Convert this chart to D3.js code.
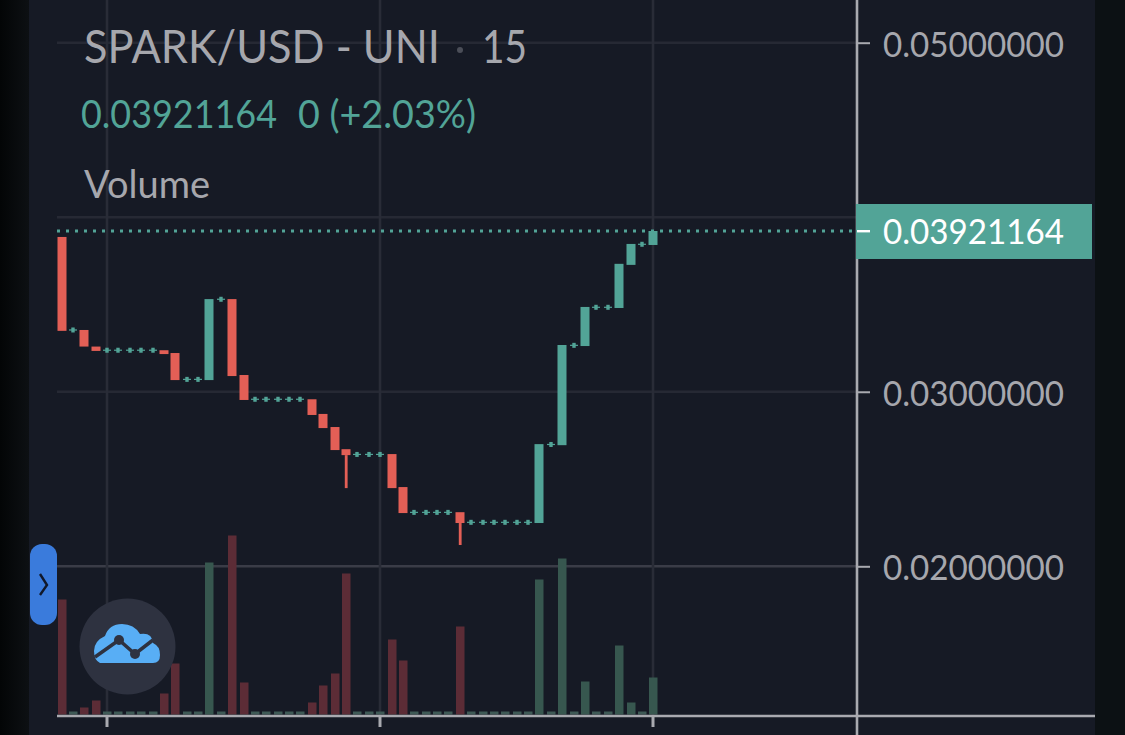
<!DOCTYPE html>
<html>
<head>
<meta charset="utf-8">
<script src="https://d3js.org/d3.v7.min.js"></script>
<style>
  html, body { margin: 0; padding: 0; background: #0c1114; overflow: hidden; }
  text { font-family: "Lato", sans-serif; }
</style>
</head>
<body>
<div id="chart"></div>
<script>
// candle data (15 min bars)
var opens = [0.03887, 0.03354, 0.03354, 0.03259, 0.03238, 0.03238, 0.03238, 0.03238, 0.03238, 0.03238,
  0.03222, 0.03071, 0.03071, 0.03067, 0.03530, 0.03531, 0.03096, 0.02957, 0.02957, 0.02957,
  0.02957, 0.02957, 0.02957, 0.02873, 0.02798, 0.02671, 0.02641, 0.02641, 0.02641, 0.02643,
  0.02454, 0.02309, 0.02309, 0.02309, 0.02309, 0.02310, 0.02252, 0.02252, 0.02252, 0.02252,
  0.02252, 0.02252, 0.02248, 0.02698, 0.02694, 0.03266, 0.03262, 0.03484, 0.03484, 0.03480,
  0.03727, 0.03845, 0.03841];
var closes = [0.03349, 0.03354, 0.03259, 0.03234, 0.03238, 0.03238, 0.03238, 0.03238, 0.03238, 0.03216,
  0.03067, 0.03071, 0.03071, 0.03531, 0.03530, 0.03090, 0.02953, 0.02957, 0.02957, 0.02957,
  0.02957, 0.02957, 0.02867, 0.02792, 0.02666, 0.02637, 0.02641, 0.02641, 0.02641, 0.02448,
  0.02305, 0.02309, 0.02309, 0.02309, 0.02309, 0.02248, 0.02252, 0.02252, 0.02252, 0.02252,
  0.02252, 0.02252, 0.02700, 0.02698, 0.03268, 0.03266, 0.03486, 0.03484, 0.03484, 0.03733,
  0.03847, 0.03845, 0.03921164];
// only the two long lower wicks show
var wickIndex = [25, 35];
var wickLows = [0.02448, 0.02122];
// volume, no scale on the picture so units are arbitrary
var volumes = [115, 3, 7, 14, 3, 3, 3, 3, 3, 21,
  51, 3, 3, 152, 3, 179, 32, 3, 3, 3,
  3, 3, 12, 29, 41, 141, 3, 3, 3, 75,
  54, 3, 3, 3, 3, 88, 3, 3, 3, 3,
  3, 3, 135, 3, 156, 3, 33, 3, 3, 69,
  12, 3, 37];
var priceTicks = [0.05, 0.03, 0.02];
var gridPrices = [0.05, 0.04, 0.03, 0.02];
var timeTicks = [4, 28, 52];
var lastPrice = 0.03921164;

var svgWidth = 1125, svgHeight = 735;
var up = "#52a497", down = "#e35f56", upVol = "#37574f", downVol = "#5c2c36", smallVol = "#3e5a56";
var axisColor = "#a9aab0", textColor = "#a6a7ad";
var axisX = 857, axisY = 716, chartLeft = 57, chartRight = 1095;

var svg = d3.select("#chart")
  .append("svg")
  .attr("width", svgWidth)
  .attr("height", svgHeight)
  .style("display", "block");

// scales
var x = d3.scaleLinear().domain([0, 52]).range([61.5, 653.3]);
var y = d3.scaleLinear().domain([0.02, 0.05]).range([566.3, 42.7]);
var vol = d3.scaleLinear().domain([0, 180]).range([714.5, 534.5]);

// the reference font is narrower than Lato, squeeze to the measured width
function label(sel, width) {
  return sel.attr("textLength", width).attr("lengthAdjust", "spacingAndGlyphs");
}

// backgrounds
var defs = svg.append("defs");
var grad = defs.append("linearGradient").attr("id", "leftStrip");
grad.append("stop").attr("offset", "0%").attr("stop-color", "#030506");
grad.append("stop").attr("offset", "100%").attr("stop-color", "#0d1013");
svg.append("rect").attr("width", 29).attr("height", svgHeight).attr("fill", "url(#leftStrip)");
svg.append("rect").attr("x", 29).attr("width", chartRight - 29).attr("height", svgHeight).attr("fill", "#161a25");

// grid
svg.append("g").selectAll("line")
  .data(gridPrices)
  .enter()
  .append("line")
  .attr("x1", chartLeft).attr("x2", axisX)
  .attr("y1", function (d) { return y(d); })
  .attr("y2", function (d) { return y(d); })
  .attr("stroke", function (d) { return d == 0.02 ? "#3a3c47" : "#262934"; })
  .attr("stroke-width", 2.6);
svg.append("g").selectAll("line")
  .data(timeTicks)
  .enter()
  .append("line")
  .attr("x1", function (d) { return Math.round(x(d)); })
  .attr("x2", function (d) { return Math.round(x(d)); })
  .attr("y1", 0).attr("y2", axisY)
  .attr("stroke", "#292c37")
  .attr("stroke-width", 2.6);

// volume bars
svg.append("g").selectAll("rect")
  .data(volumes)
  .enter()
  .append("rect")
  .attr("x", function (d, i) { return Math.round(x(i)) - 4; })
  .attr("width", 8.5)
  .attr("y", function (d) { return vol(d); })
  .attr("height", function (d) { return vol(0) - vol(d); })
  .attr("fill", function (d, i) {
    if (closes[i] >= opens[i]) return d <= 3 ? smallVol : upVol;
    return downVol;
  });

// last price dotted line
svg.append("line")
  .attr("x1", chartLeft).attr("x2", axisX)
  .attr("y1", y(lastPrice)).attr("y2", y(lastPrice))
  .attr("stroke", up)
  .attr("stroke-width", 3)
  .attr("stroke-dasharray", "3 6");

// wicks
svg.append("g").selectAll("rect")
  .data(wickIndex)
  .enter()
  .append("rect")
  .attr("x", function (d) { return Math.round(x(d)) - 1.2; })
  .attr("width", 2.8)
  .attr("y", function (d) { return y(closes[d]); })
  .attr("height", function (d, i) { return y(wickLows[i]) - y(closes[d]); })
  .attr("fill", down);

// candles, flat ones get a little cross
var candles = svg.append("g").selectAll("g")
  .data(opens)
  .enter()
  .append("g")
  .attr("transform", function (d, i) { return "translate(" + Math.round(x(i)) + ",0)"; });
candles.each(function (d, i) {
  var g = d3.select(this);
  if (opens[i] == closes[i]) {
    g.append("rect").attr("x", -4).attr("width", 8).attr("y", y(opens[i]) - 0.6).attr("height", 1.2).attr("fill", up);
    g.append("rect").attr("x", -1.7).attr("width", 3.4).attr("y", y(opens[i]) - 2.5).attr("height", 5).attr("fill", up);
  } else {
    g.append("rect")
      .attr("x", -4.5).attr("width", 9)
      .attr("y", y(Math.max(opens[i], closes[i])))
      .attr("height", Math.abs(y(opens[i]) - y(closes[i])))
      .attr("fill", closes[i] > opens[i] ? up : down);
  }
});

// axes
var priceAxis = d3.axisRight(y)
  .tickValues(priceTicks)
  .tickSize(13)
  .tickPadding(13)
  .tickFormat(d3.format(".8f"));
var priceG = svg.append("g")
  .attr("transform", "translate(" + axisX + ",0)")
  .call(priceAxis);
priceG.select(".domain").remove();
priceG.selectAll(".tick line").attr("stroke", axisColor).attr("stroke-width", 2);
priceG.selectAll(".tick text").attr("fill", textColor).style("font-size", "35px").attr("dy", "0.38em")
  .call(label, 181);

var timeAxis = d3.axisBottom(x)
  .tickValues(timeTicks)
  .tickSize(11)
  .tickFormat("");
var timeG = svg.append("g")
  .attr("transform", "translate(0," + axisY + ")")
  .call(timeAxis);
timeG.select(".domain").remove();
timeG.selectAll(".tick line")
  .attr("stroke", axisColor)
  .attr("stroke-width", 3);
timeG.selectAll(".tick").attr("transform", function (d) { return "translate(" + Math.round(x(d)) + ",0)"; });

svg.append("line").attr("x1", axisX).attr("x2", axisX).attr("y1", 0).attr("y2", svgHeight)
  .attr("stroke", axisColor).attr("stroke-width", 2.6);
svg.append("line").attr("x1", chartLeft).attr("x2", chartRight).attr("y1", axisY).attr("y2", axisY)
  .attr("stroke", axisColor).attr("stroke-width", 2.6);

// last price label
svg.append("rect")
  .attr("x", 856).attr("width", 236)
  .attr("y", y(lastPrice) - 27).attr("height", 55)
  .attr("fill", up);
svg.append("rect")
  .attr("x", 857).attr("width", 13)
  .attr("y", y(lastPrice) - 1).attr("height", 2.4)
  .attr("fill", "#fff");
svg.append("text")
  .attr("x", 883).attr("y", y(lastPrice))
  .attr("dy", "0.38em")
  .attr("fill", "#fff")
  .style("font-size", "35px")
  .text(d3.format(".8f")(lastPrice))
  .call(label, 181);

// legend
svg.append("text").attr("x", 84).attr("y", 63).attr("fill", textColor).style("font-size", "47px").text("SPARK/USD - UNI").call(label, 356);
svg.append("circle").attr("cx", 460).attr("cy", 50).attr("r", 3).attr("fill", "#4b4e58");
svg.append("text").attr("x", 482).attr("y", 63).attr("fill", textColor).style("font-size", "47px").text("15").call(label, 45);
svg.append("text").attr("x", 81).attr("y", 128).attr("fill", up).style("font-size", "38px").text(d3.format(".8f")(lastPrice)).call(label, 196);
svg.append("text").attr("x", 298).attr("y", 128).attr("fill", up).style("font-size", "38px").text("0 (+2.03%)").call(label, 178);
svg.append("text").attr("x", 84).attr("y", 198).attr("fill", textColor).style("font-size", "38px").text("Volume").call(label, 126);

// series toggle
svg.append("rect").attr("x", 30).attr("y", 544).attr("width", 27).attr("height", 81).attr("rx", 12).attr("fill", "#3a7bdc");
svg.append("path").attr("d", "M40 574 L47 585 L40 595").attr("fill", "none").attr("stroke", "#10182a").attr("stroke-width", 2.4);

// logo
svg.append("circle").attr("cx", 127.5).attr("cy", 646.5).attr("r", 48).attr("fill", "#2e3240");
svg.append("path")
  .attr("d", "M100 663 H153 Q160 663 160 655 Q160 646 153 643 Q152 632 140 634 Q134 624 122 624 Q109 624 105 636 Q94 641 94 651 Q94 660 100 663Z")
  .attr("fill", "#58aef5");
svg.append("path")
  .attr("d", "M95 657 L119 640 L135 654 L153 640")
  .attr("fill", "none").attr("stroke", "#2e3240").attr("stroke-width", 3.5);
svg.append("circle").attr("cx", 119).attr("cy", 640).attr("r", 5).attr("fill", "#2e3240");
svg.append("circle").attr("cx", 135).attr("cy", 654).attr("r", 5).attr("fill", "#2e3240");
</script>
</body>
</html>
